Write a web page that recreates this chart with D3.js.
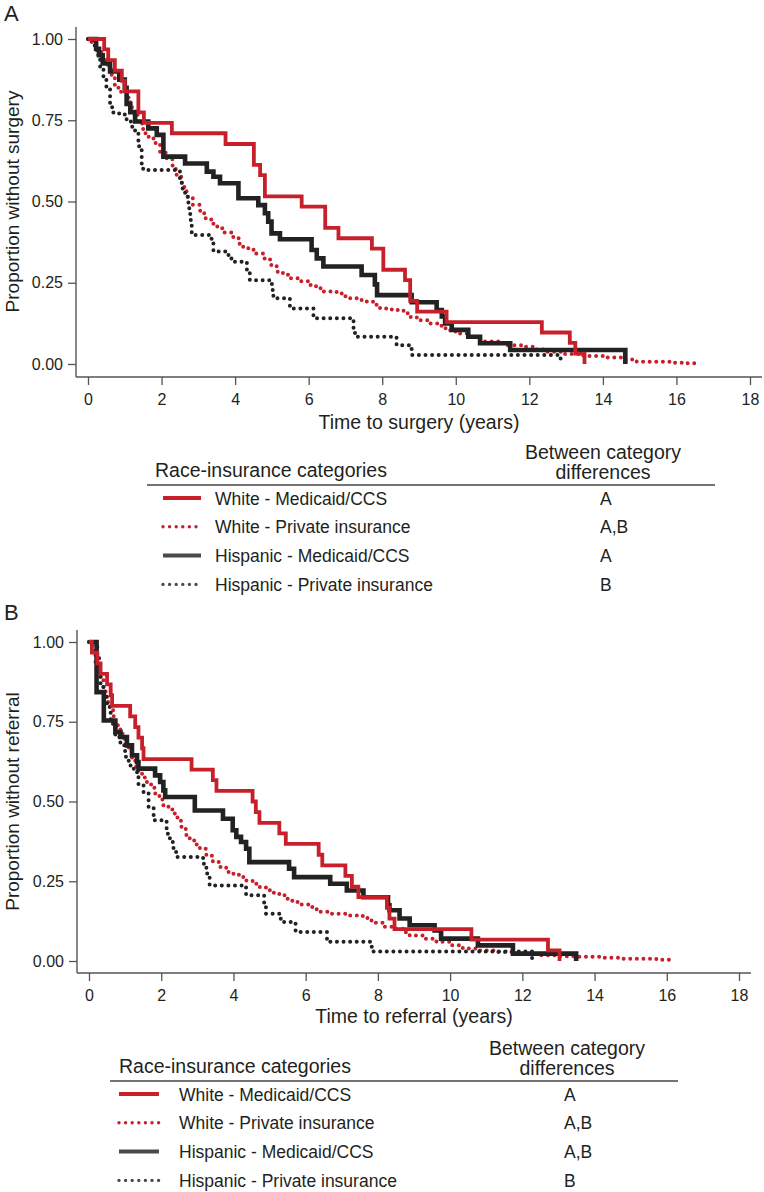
<!DOCTYPE html>
<html>
<head>
<meta charset="utf-8">
<script src="https://cdn.jsdelivr.net/npm/d3@7"></script>
<style>
  body { margin: 0; background: #fff; }
  svg text { font-family: "Liberation Sans", Arial, Helvetica, sans-serif; fill: #231f20; }
</style>
</head>
<body>
<div id="chart"></div>
<script>
// ---- data: Kaplan-Meier steps as [time (years), proportion] ----

// Panel A : time to surgery
var surgeryWhiteMedicaid = [[0,1],[0.44,0.968],[0.55,0.935],[0.73,0.903],[0.92,0.871],[1.0,0.839],[1.37,0.774],[1.52,0.742],[2.28,0.71],[3.74,0.677],[4.51,0.613],[4.68,0.581],[4.81,0.516],[5.81,0.484],[6.45,0.419],[6.81,0.387],[7.72,0.355],[8.03,0.29],[8.62,0.258],[8.76,0.194],[8.95,0.161],[9.75,0.129],[12.34,0.097],[13.1,0.065],[13.25,0.032],[13.5,0]];
var surgeryWhitePrivate = [[0,1],[0.1,0.985],[0.24,0.96],[0.4,0.94],[0.51,0.92],[0.62,0.89],[0.73,0.85],[0.9,0.835],[1.05,0.82],[1.15,0.79],[1.23,0.77],[1.35,0.74],[1.5,0.71],[1.65,0.695],[1.78,0.68],[1.96,0.65],[2.14,0.63],[2.3,0.6],[2.41,0.576],[2.55,0.545],[2.68,0.515],[2.85,0.49],[3.05,0.464],[3.2,0.445],[3.41,0.423],[3.65,0.405],[3.95,0.387],[4.1,0.37],[4.22,0.356],[4.5,0.34],[4.77,0.325],[4.95,0.305],[5.13,0.284],[5.3,0.275],[5.49,0.264],[5.75,0.255],[6.04,0.243],[6.2,0.233],[6.4,0.223],[6.76,0.217],[7.0,0.207],[7.13,0.202],[7.4,0.197],[7.58,0.192],[7.75,0.182],[7.94,0.171],[8.2,0.168],[8.39,0.166],[8.58,0.156],[8.75,0.145],[8.94,0.135],[9.3,0.125],[9.5,0.118],[9.67,0.11],[9.85,0.1],[10.0,0.094],[10.39,0.084],[10.6,0.075],[10.75,0.069],[11.29,0.058],[11.84,0.053],[12.1,0.045],[12.38,0.038],[12.93,0.031],[13.47,0.025],[14.0,0.02],[14.56,0.014],[14.92,0.007],[15.83,0.004],[16.2,0.002],[16.5,0.002]];
var surgeryHispanicMedicaid = [[0,1],[0.22,0.97],[0.3,0.95],[0.4,0.925],[0.6,0.9],[0.85,0.875],[1.0,0.85],[1.05,0.8],[1.15,0.775],[1.28,0.746],[1.64,0.725],[1.87,0.705],[2.05,0.638],[2.64,0.617],[3.23,0.592],[3.41,0.576],[3.59,0.556],[4.09,0.51],[4.63,0.489],[4.81,0.464],[4.9,0.438],[4.99,0.402],[5.22,0.384],[6.08,0.351],[6.22,0.325],[6.4,0.3],[7.44,0.274],[7.8,0.245],[7.86,0.212],[8.8,0.19],[9.48,0.166],[9.62,0.146],[9.71,0.125],[9.89,0.105],[10.34,0.084],[10.66,0.064],[11.48,0.043],[14.61,0]];
var surgeryHispanicPrivate = [[0,1],[0.15,0.98],[0.19,0.966],[0.28,0.94],[0.33,0.915],[0.42,0.884],[0.5,0.848],[0.6,0.79],[0.69,0.771],[1.0,0.766],[1.05,0.746],[1.19,0.73],[1.28,0.71],[1.37,0.67],[1.46,0.617],[1.5,0.597],[2.5,0.565],[2.55,0.54],[2.64,0.515],[2.73,0.479],[2.78,0.443],[2.82,0.397],[3.36,0.376],[3.41,0.346],[3.82,0.33],[3.9,0.315],[4.32,0.284],[4.4,0.258],[5.0,0.228],[5.04,0.202],[5.49,0.171],[6.13,0.141],[7.22,0.11],[7.26,0.084],[8.39,0.058],[8.8,0.028],[12.85,0.007]];

// Panel B : time to referral
var referralWhiteMedicaid = [[0,1],[0.08,0.967],[0.23,0.933],[0.32,0.9],[0.5,0.867],[0.6,0.833],[0.64,0.8],[1.14,0.767],[1.28,0.733],[1.37,0.7],[1.47,0.667],[1.51,0.633],[2.84,0.6],[3.43,0.567],[3.53,0.533],[4.53,0.5],[4.62,0.467],[4.72,0.433],[5.27,0.4],[5.45,0.367],[6.36,0.333],[6.46,0.3],[7.1,0.267],[7.28,0.233],[7.46,0.2],[8.25,0.167],[8.32,0.133],[8.46,0.1],[10.59,0.067],[12.71,0.033],[13.03,0]];
var referralWhitePrivate = [[0,1],[0.05,0.99],[0.12,0.96],[0.18,0.93],[0.25,0.905],[0.32,0.885],[0.4,0.855],[0.46,0.828],[0.53,0.805],[0.6,0.786],[0.67,0.767],[0.73,0.749],[0.8,0.73],[0.87,0.713],[0.93,0.697],[1.0,0.681],[1.1,0.658],[1.19,0.634],[1.28,0.61],[1.37,0.587],[1.48,0.575],[1.6,0.561],[1.72,0.543],[1.83,0.525],[1.95,0.506],[2.06,0.488],[2.2,0.475],[2.34,0.462],[2.45,0.44],[2.56,0.415],[2.68,0.395],[2.79,0.378],[2.93,0.365],[3.07,0.352],[3.25,0.33],[3.43,0.31],[3.6,0.295],[3.8,0.279],[4.0,0.27],[4.17,0.263],[4.35,0.252],[4.53,0.242],[4.7,0.232],[4.9,0.222],[5.1,0.214],[5.27,0.206],[5.45,0.195],[5.63,0.185],[5.85,0.177],[6.09,0.169],[6.2,0.162],[6.36,0.154],[6.73,0.148],[7.1,0.143],[7.46,0.141],[7.6,0.135],[7.74,0.127],[7.9,0.12],[8.14,0.107],[8.51,0.101],[8.7,0.09],[8.88,0.08],[9.25,0.07],[9.62,0.06],[9.99,0.049],[10.35,0.039],[10.72,0.033],[11.28,0.028],[11.83,0.023],[12.39,0.018],[12.94,0.015],[13.49,0.013],[14.23,0.01],[14.79,0.007],[15.71,0.004],[16.13,0.002]];
var referralHispanicMedicaid = [[0,1],[0.21,0.843],[0.41,0.754],[0.73,0.718],[0.87,0.702],[1.05,0.676],[1.19,0.645],[1.33,0.624],[1.37,0.603],[1.83,0.582],[1.97,0.561],[2.06,0.535],[2.11,0.514],[2.93,0.472],[3.71,0.446],[3.98,0.41],[4.08,0.389],[4.21,0.373],[4.35,0.352],[4.44,0.31],[5.54,0.289],[5.68,0.263],[6.68,0.242],[7.14,0.221],[7.6,0.2],[8.28,0.175],[8.32,0.159],[8.6,0.133],[8.88,0.112],[9.57,0.096],[9.75,0.07],[10.77,0.049],[11.74,0.023],[13.49,0]];
var referralHispanicPrivate = [[0,1],[0.23,0.953],[0.28,0.9],[0.32,0.859],[0.41,0.828],[0.5,0.796],[0.6,0.744],[0.73,0.702],[0.87,0.676],[1.0,0.64],[1.1,0.613],[1.24,0.592],[1.37,0.551],[1.51,0.525],[1.65,0.483],[1.79,0.441],[2.15,0.399],[2.24,0.373],[2.34,0.342],[2.43,0.326],[3.16,0.305],[3.25,0.274],[3.34,0.237],[4.35,0.206],[4.85,0.175],[4.9,0.148],[5.31,0.122],[5.72,0.091],[6.59,0.06],[7.83,0.03],[12.27,0.002]];

// categories, tick labels, between-category letters
var categories = ["White - Medicaid/CCS", "White - Private insurance", "Hispanic - Medicaid/CCS", "Hispanic - Private insurance"];
var surgeryDiffs = ["A", "A,B", "A", "B"];
var referralDiffs = ["A", "A,B", "A,B", "B"];
var xTicks = [0, 2, 4, 6, 8, 10, 12, 14, 16, 18];
var yTicks = [0, 0.25, 0.5, 0.75, 1];

// ---- styles (one per category) ----
var red = "#c8202b", dark = "#222";
var lineStyle = [
  { color: red,  width: 3.8, dash: null,      legend: red },
  { color: red,  width: 4,   dash: "0 6.6",   legend: red },
  { color: dark, width: 4.6, dash: null,      legend: "#4a4a4a" },
  { color: dark, width: 4,   dash: "0 6.6",   legend: "#4a4a4a" }
];

var W = 764, H = 1192;
var svg = d3.select("#chart").append("svg")
  .attr("width", W).attr("height", H);

var panels = [
  { tag: "A", tagY: 21, series: [surgeryWhiteMedicaid, surgeryWhitePrivate, surgeryHispanicMedicaid, surgeryHispanicPrivate],
    diffs: surgeryDiffs, yTitle: "Proportion without surgery", xTitle: "Time to surgery (years)",
    xr: [88, 750], yr: [364, 39], axX: [76, 762], axY: [27, 377], xTitleY: 429,
    lg: { rule: 485, r0: 147, r1: 715, headX: 155, colC: 603, letX: 600, sx: 163, sLen: 38, tx: 215 } },
  { tag: "B", tagY: 620, series: [referralWhiteMedicaid, referralWhitePrivate, referralHispanicMedicaid, referralHispanicPrivate],
    diffs: referralDiffs, yTitle: "Proportion without referral", xTitle: "Time to referral (years)",
    xr: [89, 739], yr: [961, 642], axX: [77, 751], axY: [630, 973], xTitleY: 1023,
    lg: { rule: 1081, r0: 110, r1: 678, headX: 119, colC: 567, letX: 564, sx: 119, sLen: 40, tx: 179 } }
];

panels.forEach(function(p) {
  var g = svg.append("g");

  var x = d3.scaleLinear().domain([0, 18]).range(p.xr);
  var y = d3.scaleLinear().domain([0, 1]).range(p.yr);

  // panel letter
  g.append("text").attr("x", 4).attr("y", p.tagY)
    .style("font-size", "22px").text(p.tag);

  // axis lines (Stata style, offset from the data region)
  g.append("line").attr("x1", p.axX[0]).attr("x2", p.axX[0]).attr("y1", p.axY[0]).attr("y2", p.axY[1])
    .attr("stroke", "#555").attr("stroke-width", 1.4);
  g.append("line").attr("x1", p.axX[0]).attr("x2", p.axX[1]).attr("y1", p.axY[1]).attr("y2", p.axY[1])
    .attr("stroke", "#555").attr("stroke-width", 1.4);

  // x axis ticks
  var gx = g.append("g")
    .attr("transform", "translate(0," + p.axY[1] + ")")
    .call(d3.axisBottom(x).tickValues(xTicks).tickSize(8).tickSizeOuter(0).tickPadding(9).tickFormat(d3.format("d")));
  gx.select(".domain").remove();
  gx.selectAll("line").attr("stroke", "#555").attr("stroke-width", 1.3);
  gx.selectAll("text").style("font-size", "16px").style("font-family", null).attr("fill", null);

  // y axis ticks
  var gy = g.append("g")
    .attr("transform", "translate(" + p.axX[0] + ",0)")
    .call(d3.axisLeft(y).tickValues(yTicks).tickSize(8).tickSizeOuter(0).tickPadding(5).tickFormat(d3.format(".2f")));
  gy.select(".domain").remove();
  gy.selectAll("line").attr("stroke", "#555").attr("stroke-width", 1.3);
  gy.selectAll("text").style("font-size", "16px").style("font-family", null).attr("fill", null);

  // axis titles
  g.append("text")
    .attr("transform", "translate(18.5," + ((p.yr[0] + p.yr[1]) / 2) + ") rotate(-90)")
    .attr("text-anchor", "middle").style("font-size", "19px").text(p.yTitle);
  g.append("text")
    .attr("x", x(9)).attr("y", p.xTitleY)
    .attr("text-anchor", "middle").style("font-size", "19.5px").text(p.xTitle);

  // survival curves
  var line = d3.line()
    .x(function(d) { return x(d[0]); })
    .y(function(d) { return y(d[1]); })
    .curve(d3.curveStepAfter);

  var order = [1, 3, 2, 0];
  order.forEach(function(i) {
    var s = lineStyle[i];
    g.append("path")
      .datum(p.series[i])
      .attr("d", line)
      .attr("fill", "none")
      .attr("stroke", s.color)
      .attr("stroke-width", s.width)
      .attr("stroke-linecap", s.dash ? "round" : "butt")
      .attr("stroke-linejoin", "miter")
      .attr("stroke-dasharray", s.dash);
  });

  // legend table
  var lg = p.lg;
  g.append("text").attr("x", lg.headX).attr("y", lg.rule - 8)
    .style("font-size", "19.5px").text("Race-insurance categories");
  g.append("text").attr("x", lg.colC).attr("y", lg.rule - 26)
    .attr("text-anchor", "middle").style("font-size", "19.5px").text("Between category");
  g.append("text").attr("x", lg.colC).attr("y", lg.rule - 6)
    .attr("text-anchor", "middle").style("font-size", "19.5px").text("differences");
  g.append("line").attr("x1", lg.r0).attr("x2", lg.r1).attr("y1", lg.rule).attr("y2", lg.rule)
    .attr("stroke", "#444").attr("stroke-width", 1.5);

  var rows = g.selectAll(".row").data(categories).enter().append("g")
    .attr("transform", function(d, i) { return "translate(0," + (lg.rule + 13 + i * 28.8) + ")"; });
  rows.append("line")
    .attr("x1", lg.sx).attr("x2", lg.sx + lg.sLen).attr("y1", 0).attr("y2", 0)
    .attr("stroke", function(d, i) { return lineStyle[i].legend; })
    .attr("stroke-width", function(d, i) { return lineStyle[i].dash ? 3.4 : 4; })
    .attr("stroke-linecap", function(d, i) { return lineStyle[i].dash ? "round" : "butt"; })
    .attr("stroke-dasharray", function(d, i) { return lineStyle[i].dash ? "0 6.6" : null; });
  rows.append("text").attr("x", lg.tx).attr("y", 6.5)
    .style("font-size", "17.5px").text(function(d) { return d; });
  rows.append("text").attr("x", lg.letX).attr("y", 6.5)
    .style("font-size", "17.5px").text(function(d, i) { return p.diffs[i]; });
});
</script>
</body>
</html>
